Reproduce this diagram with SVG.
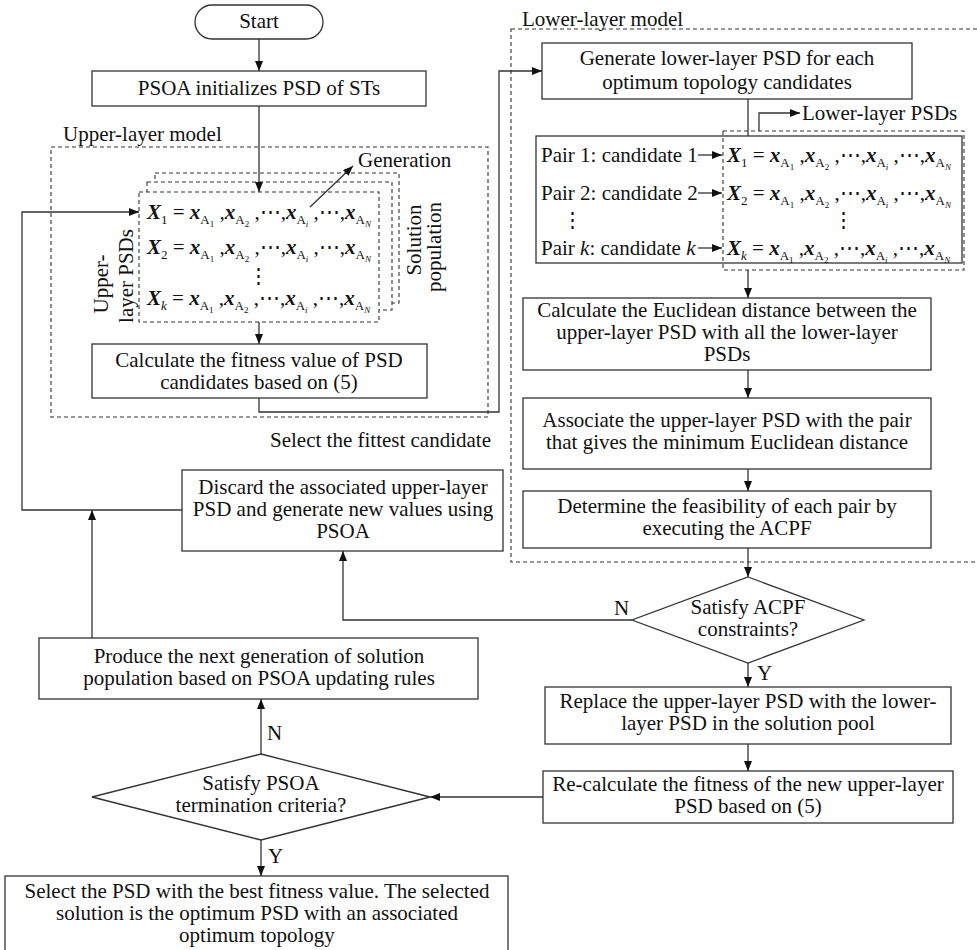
<svg xmlns="http://www.w3.org/2000/svg" width="977" height="950" viewBox="0 0 977 950">
<style>
.t{font-family:"Liberation Serif","Times New Roman",serif;font-size:21px;fill:#111;text-anchor:middle}
.l{font-family:"Liberation Serif","Times New Roman",serif;font-size:21px;fill:#111}
.m{font-family:"Liberation Serif","DejaVu Serif",serif;font-size:21px;fill:#111}
.bi{font-weight:bold;font-style:italic}
.s{font-size:13px;font-weight:normal;font-style:normal}
.ss{font-size:9px;font-weight:normal;font-style:normal}
.it{font-style:italic}
.box{fill:#fff;stroke:#333;stroke-width:1.3}
.dash{fill:none;stroke:#333;stroke-width:1.1;stroke-dasharray:4 3}
.dashw{fill:#fff;stroke:#333;stroke-width:1.1;stroke-dasharray:4 3}
.c{fill:none;stroke:#333;stroke-width:1.3}
.ca{fill:none;stroke:#333;stroke-width:1.3;marker-end:url(#ah)}
</style>
<defs>
<marker id="ah" viewBox="0 0 10 8" refX="10" refY="4" markerWidth="10" markerHeight="8" orient="auto" markerUnits="userSpaceOnUse"><path d="M0,0 L10,4 L0,8 z" fill="#111"/></marker>
</defs>
<rect width="977" height="950" fill="#fff"/>

<g id="upper-model">
<rect class="dash" x="51" y="147" width="437" height="270"/>
<text class="l" x="63" y="141">Upper-layer model</text>
</g>
<g id="lower-model">
<rect class="dash" x="511" y="29" width="480" height="533"/>
<text class="l" x="522" y="26">Lower-layer model</text>
</g>

<g id="start">
<rect class="box" x="195" y="5" width="128" height="34" rx="17"/>
<text class="t" x="259" y="28">Start</text>
</g>
<g id="init">
<rect class="box" x="92" y="71" width="334" height="35"/>
<text class="t" x="259" y="95">PSOA initializes PSD of STs</text>
</g>

<g id="population">
<rect class="dashw" x="155" y="173" width="244" height="130"/>
<rect class="dashw" x="147" y="182" width="245" height="128"/>
<rect class="dashw" x="139" y="192" width="240" height="130"/>
<text class="t" transform="translate(108,284) rotate(-90)">Upper-</text>
<text class="t" transform="translate(133,276) rotate(-90)">layer PSDs</text>
<text class="t" transform="translate(421,240) rotate(-90)">Solution</text>
<text class="t" transform="translate(441,247) rotate(-90)">population</text>
<text class="m" x="147" y="219"><tspan class="bi">X</tspan><tspan class="s" dy="5">1</tspan><tspan dy="-5"> = </tspan><tspan class="bi">x</tspan><tspan class="s" dy="5">A</tspan><tspan class="ss" dy="3">1</tspan><tspan dy="-8"> ,</tspan><tspan class="bi">x</tspan><tspan class="s" dy="5">A</tspan><tspan class="ss" dy="3">2</tspan><tspan dy="-8"> ,⋯,</tspan><tspan class="bi">x</tspan><tspan class="s" dy="5">A</tspan><tspan class="ss it" dy="3">i</tspan><tspan dy="-8"> ,⋯,</tspan><tspan class="bi">x</tspan><tspan class="s" dy="5">A</tspan><tspan class="ss it" dy="3">N</tspan></text>
<text class="m" x="147" y="254"><tspan class="bi">X</tspan><tspan class="s" dy="5">2</tspan><tspan dy="-5"> = </tspan><tspan class="bi">x</tspan><tspan class="s" dy="5">A</tspan><tspan class="ss" dy="3">1</tspan><tspan dy="-8"> ,</tspan><tspan class="bi">x</tspan><tspan class="s" dy="5">A</tspan><tspan class="ss" dy="3">2</tspan><tspan dy="-8"> ,⋯,</tspan><tspan class="bi">x</tspan><tspan class="s" dy="5">A</tspan><tspan class="ss it" dy="3">i</tspan><tspan dy="-8"> ,⋯,</tspan><tspan class="bi">x</tspan><tspan class="s" dy="5">A</tspan><tspan class="ss it" dy="3">N</tspan></text>
<text class="t" x="258" y="283">⋮</text>
<text class="m" x="147" y="305"><tspan class="bi">X</tspan><tspan class="s it" dy="5">k</tspan><tspan dy="-5"> = </tspan><tspan class="bi">x</tspan><tspan class="s" dy="5">A</tspan><tspan class="ss" dy="3">1</tspan><tspan dy="-8"> ,</tspan><tspan class="bi">x</tspan><tspan class="s" dy="5">A</tspan><tspan class="ss" dy="3">2</tspan><tspan dy="-8"> ,⋯,</tspan><tspan class="bi">x</tspan><tspan class="s" dy="5">A</tspan><tspan class="ss it" dy="3">i</tspan><tspan dy="-8"> ,⋯,</tspan><tspan class="bi">x</tspan><tspan class="s" dy="5">A</tspan><tspan class="ss it" dy="3">N</tspan></text>
<text class="l" x="358" y="167">Generation</text>
</g>

<g id="fitness">
<rect class="box" x="92" y="344" width="335" height="54"/>
<text class="t" x="259" y="367">Calculate the fitness value of PSD</text>
<text class="t" x="259" y="389">candidates based on (5)</text>
</g>

<g id="generate">
<rect class="box" x="542" y="43" width="370" height="56"/>
<text class="t" x="727" y="65">Generate lower-layer PSD for each</text>
<text class="t" x="727" y="89">optimum topology candidates</text>
</g>

<g id="pairs">
<rect class="box" x="536" y="136" width="426" height="127"/>
<rect class="dash" x="723" y="131" width="241" height="139"/>
<text class="l" x="541" y="162">Pair 1: candidate 1</text>
<text class="l" x="541" y="200">Pair 2: candidate 2</text>
<text class="t" x="572" y="227">⋮</text>
<text class="l" x="541" y="255">Pair <tspan class="it">k</tspan>: candidate <tspan class="it">k</tspan></text>
<text class="m" x="727" y="162"><tspan class="bi">X</tspan><tspan class="s" dy="5">1</tspan><tspan dy="-5"> = </tspan><tspan class="bi">x</tspan><tspan class="s" dy="5">A</tspan><tspan class="ss" dy="3">1</tspan><tspan dy="-8"> ,</tspan><tspan class="bi">x</tspan><tspan class="s" dy="5">A</tspan><tspan class="ss" dy="3">2</tspan><tspan dy="-8"> ,⋯,</tspan><tspan class="bi">x</tspan><tspan class="s" dy="5">A</tspan><tspan class="ss it" dy="3">i</tspan><tspan dy="-8"> ,⋯,</tspan><tspan class="bi">x</tspan><tspan class="s" dy="5">A</tspan><tspan class="ss it" dy="3">N</tspan></text>
<text class="m" x="727" y="200"><tspan class="bi">X</tspan><tspan class="s" dy="5">2</tspan><tspan dy="-5"> = </tspan><tspan class="bi">x</tspan><tspan class="s" dy="5">A</tspan><tspan class="ss" dy="3">1</tspan><tspan dy="-8"> ,</tspan><tspan class="bi">x</tspan><tspan class="s" dy="5">A</tspan><tspan class="ss" dy="3">2</tspan><tspan dy="-8"> ,⋯,</tspan><tspan class="bi">x</tspan><tspan class="s" dy="5">A</tspan><tspan class="ss it" dy="3">i</tspan><tspan dy="-8"> ,⋯,</tspan><tspan class="bi">x</tspan><tspan class="s" dy="5">A</tspan><tspan class="ss it" dy="3">N</tspan></text>
<text class="t" x="843" y="227">⋮</text>
<text class="m" x="727" y="255"><tspan class="bi">X</tspan><tspan class="s it" dy="5">k</tspan><tspan dy="-5"> = </tspan><tspan class="bi">x</tspan><tspan class="s" dy="5">A</tspan><tspan class="ss" dy="3">1</tspan><tspan dy="-8"> ,</tspan><tspan class="bi">x</tspan><tspan class="s" dy="5">A</tspan><tspan class="ss" dy="3">2</tspan><tspan dy="-8"> ,⋯,</tspan><tspan class="bi">x</tspan><tspan class="s" dy="5">A</tspan><tspan class="ss it" dy="3">i</tspan><tspan dy="-8"> ,⋯,</tspan><tspan class="bi">x</tspan><tspan class="s" dy="5">A</tspan><tspan class="ss it" dy="3">N</tspan></text>
<text class="l" x="802" y="120">Lower-layer PSDs</text>
</g>

<g id="euclid">
<rect class="box" x="523" y="298" width="408" height="72"/>
<text class="t" x="727" y="317">Calculate the Euclidean distance between the</text>
<text class="t" x="727" y="339">upper-layer PSD with all the lower-layer</text>
<text class="t" x="727" y="361">PSDs</text>
</g>
<g id="associate">
<rect class="box" x="523" y="398" width="408" height="71"/>
<text class="t" x="727" y="427">Associate the upper-layer PSD with the pair</text>
<text class="t" x="727" y="449">that gives the minimum Euclidean distance</text>
</g>
<g id="determine">
<rect class="box" x="523" y="491" width="408" height="57"/>
<text class="t" x="727" y="513">Determine the feasibility of each pair by</text>
<text class="t" x="727" y="535">executing the ACPF</text>
</g>
<g id="acpf">
<polygon class="box" points="748,577 864,620 748,663 632,620"/>
<text class="t" x="748" y="614">Satisfy ACPF</text>
<text class="t" x="748" y="636">constraints?</text>
</g>
<g id="discard">
<rect class="box" x="182" y="470" width="321" height="81"/>
<text class="t" x="343" y="494">Discard the associated upper-layer</text>
<text class="t" x="343" y="516">PSD and generate new values using</text>
<text class="t" x="343" y="538">PSOA</text>
</g>
<g id="replace">
<rect class="box" x="545" y="687" width="406" height="57"/>
<text class="t" x="748" y="708">Replace the upper-layer PSD with the lower-</text>
<text class="t" x="748" y="730">layer PSD in the solution pool</text>
</g>
<g id="recalc">
<rect class="box" x="543" y="771" width="410" height="52"/>
<text class="t" x="748" y="791">Re-calculate the fitness of the new upper-layer</text>
<text class="t" x="748" y="813">PSD based on (5)</text>
</g>
<g id="psoa-check">
<polygon class="box" points="261,754 430,797 261,840 92,797"/>
<text class="t" x="261" y="790">Satisfy PSOA</text>
<text class="t" x="261" y="812">termination criteria?</text>
</g>
<g id="produce">
<rect class="box" x="39" y="638" width="439" height="61"/>
<text class="t" x="259" y="663">Produce the next generation of solution</text>
<text class="t" x="259" y="685">population based on PSOA updating rules</text>
</g>
<g id="select">
<rect class="box" x="5" y="876" width="503" height="76"/>
<text class="t" x="257" y="898">Select the PSD with the best fitness value. The selected</text>
<text class="t" x="257" y="920">solution is the optimum PSD with an associated</text>
<text class="t" x="257" y="942">optimum topology</text>
</g>

<g id="connectors">
<path class="ca" d="M259,39 V71"/>
<path class="ca" d="M259,106 V192"/>
<path class="ca" d="M259,322 V344"/>
<path class="ca" d="M259,398 V412 H499 V71 H542"/>
<path class="ca" d="M310,207 L353,166"/>
<path class="c" d="M748,99 V136"/>
<path class="ca" d="M759,131 V113 H800"/>
<path class="ca" d="M698,155 H722"/>
<path class="ca" d="M698,193 H722"/>
<path class="ca" d="M698,248 H722"/>
<path class="ca" d="M748,270 V298"/>
<path class="ca" d="M748,370 V398"/>
<path class="ca" d="M748,469 V491"/>
<path class="ca" d="M748,548 V577"/>
<path class="ca" d="M632,620 H343 V551"/>
<path class="ca" d="M748,663 V687"/>
<path class="ca" d="M748,744 V771"/>
<path class="ca" d="M543,797 H430"/>
<path class="ca" d="M261,754 V699"/>
<path class="ca" d="M261,840 V876"/>
<path class="ca" d="M92,638 V510"/>
<path class="ca" d="M182,510 H22 V212 H139"/>
<text class="l" x="270" y="447">Select the fittest candidate</text>
<text class="l" x="614" y="615">N</text>
<text class="l" x="757" y="680">Y</text>
<text class="l" x="267" y="740">N</text>
<text class="l" x="268" y="863">Y</text>
</g>
</svg>
